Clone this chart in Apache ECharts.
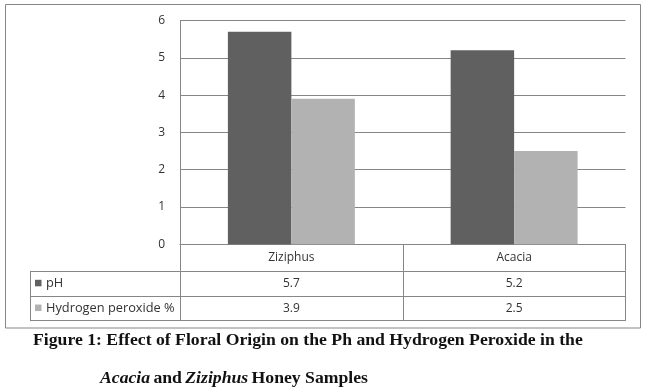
<!DOCTYPE html>
<html><head><meta charset="utf-8">
<script src="https://cdn.jsdelivr.net/npm/echarts@6/dist/echarts.min.js"></script>
<style>html,body{margin:0;padding:0;background:#fff}#c{width:647px;height:392px}</style>
</head><body><div id="c"></div>
<script>
const categories = ['Ziziphus', 'Acacia'];
const phValues = [5.7, 5.2];
const h2o2Values = [3.9, 2.5];
const seriesNames = ['pH', 'Hydrogen peroxide %'];
const yTicks = [0, 1, 2, 3, 4, 5, 6];

const chart = echarts.init(document.getElementById('c'), null, {renderer: 'canvas'});
const LINE = '#868686';
const FONT = 'Open Sans';
const gridTop = 20.5, gridBottomY = 244.3, gridLeft = 180, gridRight = 625.5;
const rowH = [26.5, 25, 24.5];

function tableAxis(idx, data, offset, tickLen, margin) {
  return {
    type: 'category', data: data, gridIndex: 0, position: 'bottom', offset: offset,
    axisLine: {show: true, lineStyle: {color: LINE, width: 1}},
    axisTick: {show: tickLen > 0, length: tickLen, lineStyle: {color: LINE}},
    axisLabel: {show: data.length > 0, color: '#333', fontFamily: FONT, fontSize: 12, margin: margin},
    splitLine: {show: false}
  };
}

const off1 = rowH[0], off2 = rowH[0] + rowH[1], off3 = rowH[0] + rowH[1] + rowH[2];

const option = {
  animation: false,
  backgroundColor: '#fff',
  grid: {left: gridLeft, right: 647 - gridRight, top: gridTop, bottom: 392 - gridBottomY, containLabel: false},
  xAxis: [
    tableAxis(0, categories, 0, rowH[0], 7),
    tableAxis(1, phValues.map(v => v.toFixed(1)), off1, rowH[1], 6.5),
    tableAxis(2, h2o2Values.map(v => v.toFixed(1)), off2, rowH[2], 6.5),
    tableAxis(3, categories.map(() => ''), off3, 0, 0)
  ],
  yAxis: {
    type: 'value', min: yTicks[0], max: yTicks[yTicks.length - 1], interval: 1,
    axisLine: {show: true, lineStyle: {color: LINE}},
    axisTick: {show: false},
    axisLabel: {color: '#333', fontFamily: FONT, fontSize: 12, margin: 15},
    splitLine: {show: true, lineStyle: {color: LINE, width: 1}}
  },
  series: [
    {name: seriesNames[0], type: 'bar', xAxisIndex: 0, data: phValues, barGap: '0%', barCategoryGap: '43%', itemStyle: {color: '#606060'}},
    {name: seriesNames[1], type: 'bar', xAxisIndex: 0, data: h2o2Values, barGap: '0%', barCategoryGap: '43%', itemStyle: {color: '#b2b2b2'}}
  ]
};
chart.setOption(option);

const tableLeft = 30;
const r1 = gridBottomY + off1, r2 = gridBottomY + off2, r3 = gridBottomY + off3;
const keyColors = ['#606060', '#b2b2b2'];
const rowsY = [[r1, r2], [r2, r3]];
const g = [];
g.push({type: 'rect', shape: {x: 5.5, y: 4.5, width: 635, height: 323.5}, style: {fill: 'none', stroke: LINE, lineWidth: 1}, z: 0});
[r1, r2, r3].forEach(y => g.push({type: 'line', shape: {x1: tableLeft, y1: Math.round(y) + 0.5, x2: gridLeft, y2: Math.round(y) + 0.5}, style: {stroke: LINE, lineWidth: 1}}));
g.push({type: 'line', shape: {x1: tableLeft + 0.5, y1: Math.round(r1) + 0.5, x2: tableLeft + 0.5, y2: Math.round(r3) + 0.5}, style: {stroke: LINE, lineWidth: 1}});
g.push({type: 'line', shape: {x1: gridLeft + 0.5, y1: Math.round(r1) + 0.5, x2: gridLeft + 0.5, y2: Math.round(r3) + 0.5}, style: {stroke: LINE, lineWidth: 1}});
seriesNames.forEach((n, i) => {
  const cy = (rowsY[i][0] + rowsY[i][1]) / 2;
  g.push({type: 'rect', shape: {x: 35, y: cy - 3.5, width: 6.5, height: 6.5}, style: {fill: keyColors[i]}});
  g.push({type: 'text', x: 46, y: cy, style: {text: n, fill: '#333', font: '12.8px "' + FONT + '"', verticalAlign: 'middle'}});
});
g.push({type: 'text', x: 33, y: 340, style: {
  text: 'Figure 1: Effect of Floral Origin on the Ph and Hydrogen Peroxide in the',
  fill: '#111', font: 'bold 17.7px "Liberation Serif"', verticalAlign: 'middle'}});
g.push({type: 'text', x: 100, y: 378, style: {
  text: '{i|Acacia} {b|and} {i|Ziziphus} {b|Honey Samples}',
  verticalAlign: 'middle',
  rich: {
    i: {fontFamily: 'Liberation Serif', fontSize: 17.7, fontStyle: 'italic', fontWeight: 'bold', fill: '#111'},
    b: {fontFamily: 'Liberation Serif', fontSize: 17.7, fontWeight: 'bold', fill: '#111'}
  }}});
chart.setOption({graphic: g});
</script>
</body></html>
